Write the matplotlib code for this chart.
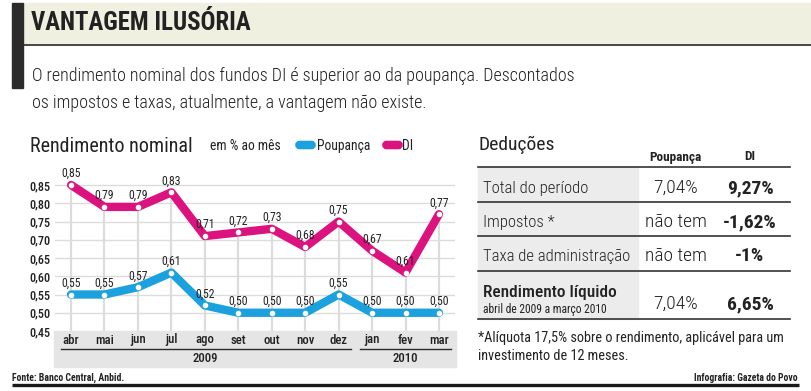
import numpy as np
import matplotlib
matplotlib.use('Agg')
import matplotlib.pyplot as plt
from matplotlib import font_manager as fm
from matplotlib.patches import Rectangle, FancyBboxPatch

# ---------------------------------------------------------------- data
months = ['abr', 'mai', 'jun', 'jul', 'ago', 'set', 'out', 'nov', 'dez',
          'jan', 'fev', 'mar']
years = ['2009', '2010']
poupanca = [0.55, 0.55, 0.57, 0.61, 0.52, 0.50, 0.50, 0.50, 0.55, 0.50, 0.50, 0.50]
di = [0.85, 0.79, 0.79, 0.83, 0.71, 0.72, 0.73, 0.68, 0.75, 0.67, 0.61, 0.77]
yticks = [0.45, 0.50, 0.55, 0.60, 0.65, 0.70, 0.75, 0.80, 0.85]

row_labels = ['Total do período', 'Impostos *', 'Taxa de administração']
col_poup = ['7,04%', 'não tem', 'não tem']
col_di = ['9,27%', '-1,62%', '-1%']
liq_poup = '7,04%'
liq_di = '6,65%'

MAG = '#dc137f'
BLUE = '#1ba1dd'
GRID = '#dcdcdc'
DARK = '#2b2b2b'
TXT = '#222222'

names = set(fm.get_font_names())


def pick(*cands):
    for c in cands:
        if c in names:
            return c
    return 'DejaVu Sans'


COND = pick('Roboto Condensed', 'Liberation Sans Narrow', 'Open Sans Condensed')
plt.rcParams['font.family'] = [COND, 'DejaVu Sans']


def fmt(v):
    return ('%.2f' % v).replace('.', ',')


W, H = 811, 391
fig = plt.figure(figsize=(W / 100, H / 100), dpi=100)

# overlay axes in pixel coordinates
ov = fig.add_axes([0, 0, 1, 1])
ov.set_xlim(0, W)
ov.set_ylim(H, 0)
ov.axis('off')

# header
ov.add_patch(Rectangle((23, 3), W - 23, 42, color='#f0f0e0', zorder=0))
ov.add_patch(Rectangle((12, 3), 11, 85, color=DARK, zorder=1))
ov.plot([23, W], [45, 45], color=DARK, lw=1.2)
ov.text(31, 23, 'VANTAGEM ILUSÓRIA', fontsize=17.8, fontweight='bold',
        color=TXT, va='center', ha='left')
ov.text(32, 76, 'O rendimento nominal dos fundos DI é superior ao da poupança. Descontados',
        fontsize=13, color=TXT, va='center', ha='left', fontweight='light')
ov.text(32, 103, 'os impostos e taxas, atualmente, a vantagem não existe.',
        fontsize=13, color=TXT, va='center', ha='left', fontweight='light')

# chart title + legend
ov.text(30, 146, 'Rendimento nominal', fontsize=14.5, color=TXT, va='center')
ov.text(210, 146, 'em % ao mês', fontsize=9.8, color=TXT, va='center')
ov.add_patch(FancyBboxPatch((298, 143.5), 15, 3, boxstyle='round,pad=0,rounding_size=1.5',
                            mutation_aspect=1, color=BLUE, lw=4))
ov.text(317, 146, 'Poupança', fontsize=9.8, color=TXT, va='center')
ov.add_patch(FancyBboxPatch((385, 143.5), 15, 3, boxstyle='round,pad=0,rounding_size=1.5',
                            mutation_aspect=1, color=MAG, lw=4))
ov.text(402, 146, 'DI', fontsize=9.8, color=TXT, va='center')

# gray band under chart
ov.add_patch(Rectangle((54, 331), 402, 36, color='#e5e5e5', zorder=0))

# chart axes
y0, y1 = 0.45, 0.87
px_per = 18.25 / 0.05
top_px = 331 - (y1 - y0) * px_per
ax = fig.add_axes([55 / W, (H - 331) / H, 400 / W, (331 - top_px) / H])
ax.patch.set_alpha(0)
x = np.arange(len(months))
ax.set_xlim(-0.48, len(months) - 0.52)
ax.set_ylim(y0, y1)
for s in ax.spines.values():
    s.set_visible(False)
ax.set_xticks([])
ax.set_yticks(yticks)
ax.set_yticklabels([fmt(v) for v in yticks], fontsize=8.8, color=TXT,
                   fontweight='medium')
ax.tick_params(axis='y', length=0, pad=3)
for t in yticks[1:]:
    ax.axhline(t, color=GRID, lw=1, zorder=0)
ax.vlines(x, y0, di, color=GRID, lw=1.6, zorder=0)

for vals, col in [(poupanca, BLUE), (di, MAG)]:
    ax.plot(x, vals, color=col, lw=6, solid_joinstyle='round',
            solid_capstyle='round', zorder=2)
    ax.plot(x, vals, 'o', color='white', ms=3, zorder=3)
    for xi, v in zip(x, vals):
        ax.annotate(fmt(v), (xi, v), xytext=(0, 3.5), textcoords='offset points',
                    ha='center', va='bottom', fontsize=8.5, color=TXT, zorder=4)

# month / year labels
for xi, m in zip(x, months):
    px = 71 + xi * 33.45
    ov.text(px, 340, m, fontsize=9.2, color=TXT, ha='center', va='center',
            fontweight='medium')
ov.plot([61, 351], [349, 349], color=DARK, lw=1)
ov.plot([360, 451], [349, 349], color=DARK, lw=1)
ov.text(205, 358, years[0], fontsize=9.2, color=TXT, ha='center', va='center',
        fontweight='medium')
ov.text(405, 358, years[1], fontsize=9.2, color=TXT, ha='center', va='center',
        fontweight='medium')

# footer
ov.text(12, 378, 'Fonte: Banco Central, Anbid.', fontsize=7, fontweight='bold',
        color=TXT, va='center')
ov.text(798, 378, 'Infografia: Gazeta do Povo', fontsize=6.9, fontweight='bold',
        color=TXT, va='center', ha='right')
ov.plot([12, 799], [385, 385], color='#1a1a1a', lw=2.4, solid_capstyle='butt')

# table
ov.text(478, 145, 'Deduções', fontsize=14, color=TXT, va='center')
ov.text(675, 157, 'Poupança', fontsize=9.5, fontweight='bold', color=TXT,
        ha='center', va='center')
ov.text(750, 157, 'DI', fontsize=9.5, fontweight='bold', color=TXT,
        ha='center', va='center')
ov.add_patch(Rectangle((478, 167), 160, 152, color='#ececec', zorder=0))
for yl in [167, 202, 236, 271, 319]:
    ov.plot([478, 790], [yl, yl], color='#333333', lw=1.2)
row_y = [188, 222, 256]
for yy, lab, p, d in zip(row_y, row_labels, col_poup, col_di):
    ov.text(483, yy, lab, fontsize=12, color=TXT, va='center',
            fontweight='light')
    ov.text(676, yy, p, fontsize=14, color=TXT, va='center', ha='center',
            fontweight='light')
    ov.text(750, yy, d, fontsize=14, color=TXT, va='center', ha='center',
            fontweight='bold')
ov.text(483, 292, 'Rendimento líquido', fontsize=12.5, color=TXT, va='center',
        fontweight='medium')
ov.text(483, 309, 'abril de 2009 a março 2010', fontsize=8.3, color=TXT,
        va='center')
ov.text(676, 304, liq_poup, fontsize=14, color=TXT, va='center', ha='center',
        fontweight='light')
ov.text(750, 304, liq_di, fontsize=14, color=TXT, va='center', ha='center',
        fontweight='bold')
ov.text(478, 338, '*Alíquota 17,5% sobre o rendimento, aplicável para um',
        fontsize=10.3, color=TXT, va='center')
ov.text(478, 356, 'investimento de 12 meses.', fontsize=10.3, color=TXT,
        va='center')

fig.savefig('out.png', dpi=100, facecolor='white')
